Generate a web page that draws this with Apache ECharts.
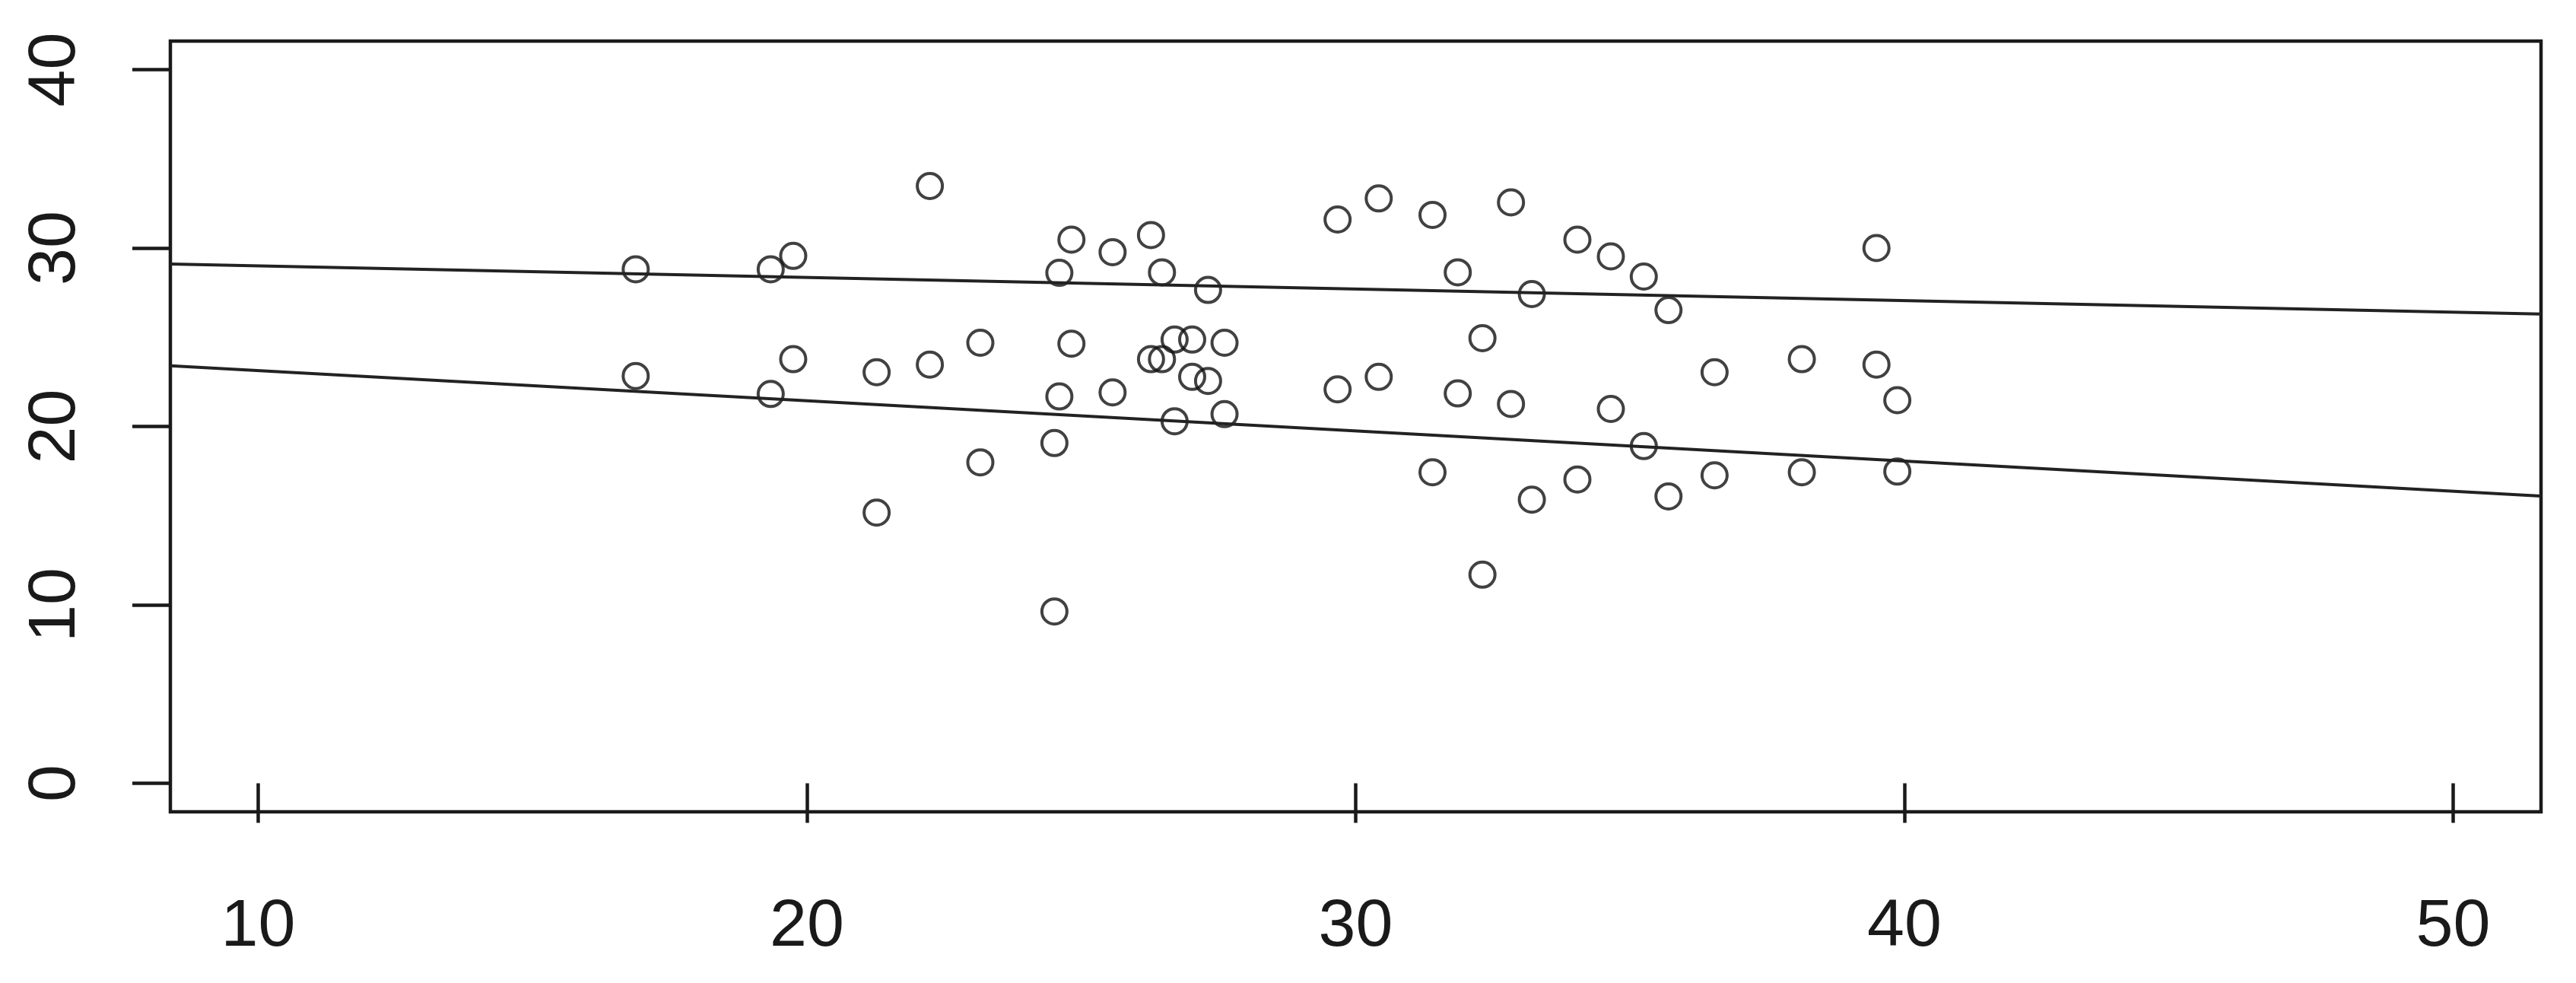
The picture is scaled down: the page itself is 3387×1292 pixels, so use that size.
<!DOCTYPE html>
<html lang="en">
<head>
    <meta charset="UTF-8">
    <title>Scatter</title>
    <script src="https://cdn.jsdelivr.net/npm/echarts@6/dist/echarts.min.js"></script>
    <style>
        html, body { margin: 0; width: 100%; height: 100%; background: #fff; }
        #chart { width: 3387px; height: 1292px; }
    </style>
</head>
<body>
<div id="chart"></div>
<script>
    // every x has two observations
    var xVals = [16.88, 19.34, 19.75, 21.27, 22.24, 23.16, 24.51, 24.60, 24.82, 25.57,
                 26.27, 26.47, 26.70, 27.02, 27.31, 27.61, 29.67, 30.42, 31.40, 31.86,
                 32.31, 32.83, 33.21, 34.04, 34.65, 35.25, 35.70, 36.54, 38.13, 39.49, 39.87];
    var yHigh = [28.81, 28.81, 29.56, 23.04, 33.48, 24.69, 19.07, 28.61, 30.47, 29.77,
                 30.73, 28.64, 24.87, 24.87, 27.65, 24.69, 31.60, 32.78, 31.86, 28.64,
                 24.95, 32.56, 27.42, 30.47, 29.53, 28.40, 26.52, 23.04, 23.77, 30.00, 21.47];
    var yLow  = [22.83, 21.82, 23.77, 15.17, 23.47, 17.99, 9.63, 21.68, 24.64, 21.91,
                 23.77, 23.77, 20.29, 22.78, 22.55, 20.69, 22.08, 22.78, 17.43, 21.85,
                 11.69, 21.26, 15.90, 17.03, 20.98, 18.90, 16.08, 17.26, 17.43, 23.47, 17.47];
    // fitted lines, ends at the plot edges
    var lineTop = [[8.4, 29.1], [51.6, 26.3]];
    var lineBottom = [[8.4, 23.4], [51.6, 16.1]];
    var xTicks = [10, 20, 30, 40, 50];
    var yTicks = [0, 10, 20, 30, 40];

    var pts = [];
    for (var i = 0; i < xVals.length; i++) {
        pts.push([xVals[i], yHigh[i]]);
        pts.push([xVals[i], yLow[i]]);
    }

    var ink = '#1a1a1a';
    var font = { fontFamily: 'Liberation Sans, Arial, sans-serif', fontSize: 88, color: ink };

    var option = {
        animation: false,
        backgroundColor: '#fff',
        grid: {
            left: 224, top: 54, right: 46, bottom: 225,
            show: true, borderColor: ink, borderWidth: 4.5, backgroundColor: 'transparent'
        },
        xAxis: {
            type: 'value', min: 8.4, max: 51.6,
            axisLine: { show: false },
            splitLine: { show: false },
            axisTick: { show: true, length: 52, lineStyle: { color: ink, width: 4.5 }, customValues: xTicks },
            axisLabel: Object.assign({ margin: 108, customValues: xTicks }, font)
        },
        yAxis: {
            type: 'value', min: -1.6, max: 41.6,
            axisLine: { show: false },
            splitLine: { show: false },
            axisTick: { show: true, length: 50, lineStyle: { color: ink, width: 4.5 }, customValues: yTicks },
            axisLabel: Object.assign({ margin: 106, rotate: 90, customValues: yTicks }, font)
        },
        series: [
            {
                type: 'line', data: lineTop, symbol: 'none',
                lineStyle: { color: '#222', width: 4 }
            },
            {
                type: 'line', data: lineBottom, symbol: 'none',
                lineStyle: { color: '#222', width: 4 }
            },
            {
                type: 'scatter', data: pts, symbol: 'circle', symbolSize: 33,
                itemStyle: { color: 'rgba(0,0,0,0)', borderColor: '#111', borderWidth: 4 }
            }
        ]
    };

    var myChart = echarts.init(document.getElementById('chart'));
    myChart.setOption(option);
</script>
</body>
</html>
